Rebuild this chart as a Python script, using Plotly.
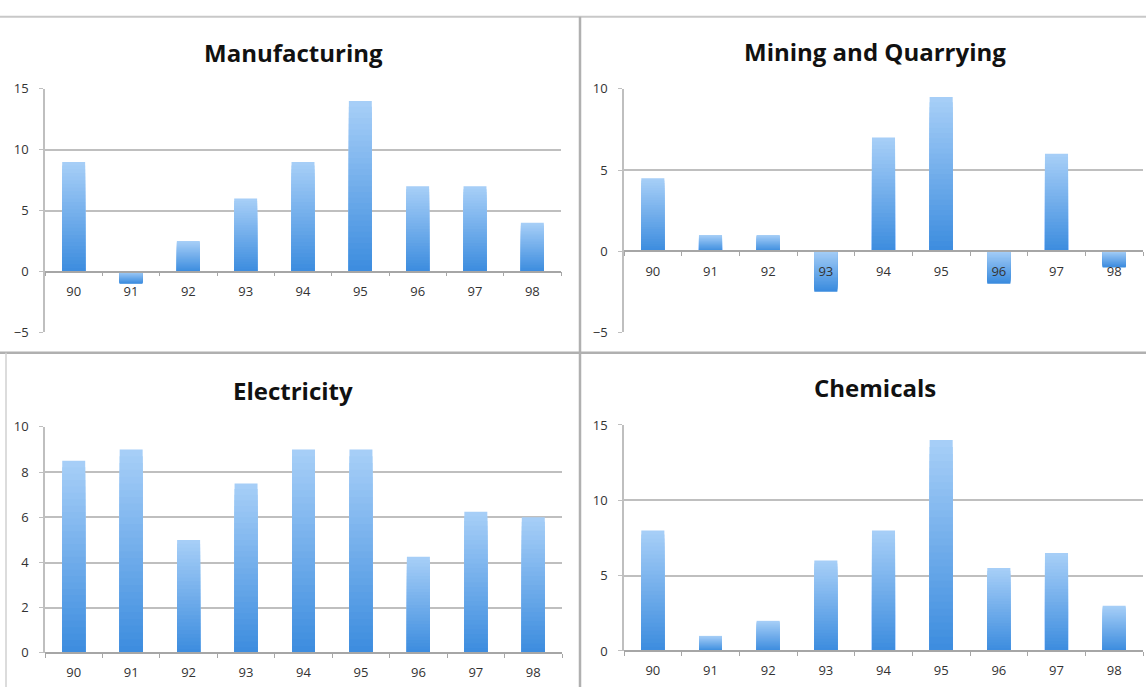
import plotly.graph_objects as go

# ---------------- data ----------------
years = ["90", "91", "92", "93", "94", "95", "96", "97", "98"]
manufacturing = [9, -1, 2.5, 6, 9, 14, 7, 7, 4]
mining = [4.5, 1, 1, -2.5, 7, 9.5, -2, 6, -1]
electricity = [8.5, 9, 5, 7.5, 9, 9, 4.25, 6.25, 6]
chemicals = [8, 1, 2, 6, 8, 14, 5.5, 6.5, 3]
titles = ["Manufacturing", "Mining and Quarrying", "Electricity", "Chemicals"]
y_ranges = [[-5, 15], [-5, 10], [0, 10], [0, 15]]
y_dticks = [5, 5, 2, 5]

# ---------------- layout geometry (pixels of the 1146x696 page) ----------------
W, H = 1146, 696
boxes = [  # x0, x1, ytop, ybottom, title x, title y
    (45, 561, 82, 332, 293, 45),
    (624, 1143, 82, 332, 875, 44),
    (45, 562, 429, 661, 293, 392),
    (624, 1143, 427, 659, 875, 389),
]
series = [manufacturing, mining, electricity, chemicals]

LIGHT = (166, 206, 247)
DARK = (58, 139, 222)
GRID = "#bfbfbf"
N = 30


def mix(t):
    c = [round(DARK[i] + (LIGHT[i] - DARK[i]) * t) for i in range(3)]
    return "rgb(%d,%d,%d)" % tuple(c)


fig = go.Figure()
layout = dict(
    width=W, height=H, margin=dict(l=0, r=0, t=0, b=0, pad=0),
    paper_bgcolor="white", plot_bgcolor="white",
    showlegend=False, barmode="overlay", bargap=0.6,
    font=dict(family="Open Sans, sans-serif", color="#333333", size=13),
)
annotations = []

for p, (vals, title, yr, dt, box) in enumerate(zip(series, titles, y_ranges, y_dticks, boxes)):
    sfx = "" if p == 0 else str(p + 1)
    xa, ya = "x" + sfx, "y" + sfx
    x0, x1, yt, yb, tx, ty = box
    ydom = [1 - yb / H, 1 - yt / H]
    zero_pos = ydom[0] + (0 - yr[0]) / (yr[1] - yr[0]) * (ydom[1] - ydom[0])

    for k in range(N):
        frac = 1 - k / N
        ys = [v * frac for v in vals]
        cols = [mix(frac if v >= 0 else k / N) for v in vals]
        fig.add_trace(go.Bar(x=years, y=ys, marker=dict(color=cols, line=dict(width=0)),
                             xaxis=xa, yaxis=ya, hoverinfo="skip"))

    layout["xaxis" + sfx] = dict(
        domain=[x0 / W, x1 / W], anchor="free", position=zero_pos,
        type="category", showline=True, linecolor="#a6a6a6", linewidth=1.5,
        ticks="outside", tickson="boundaries", ticklen=4, tickcolor="#a6a6a6",
        ticklabelstandoff=8,
        showgrid=False, tickfont=dict(size=13, color="#333333"), fixedrange=True,
    )
    layout["yaxis" + sfx] = dict(
        domain=ydom, anchor=xa, range=yr, dtick=dt, tick0=0,
        showline=True, linecolor=GRID, linewidth=1.5,
        ticks="outside", ticklen=4, tickcolor=GRID, ticklabelstandoff=8,
        showgrid=True, gridcolor=GRID, gridwidth=1.5,
        zeroline=False, tickfont=dict(size=13, color="#333333"), fixedrange=True,
    )
    annotations.append(dict(
        text="<b>%s</b>" % title, x=tx / W, y=1 - ty / H, xref="paper", yref="paper",
        xanchor="center", yanchor="middle", showarrow=False,
        font=dict(size=24, color="#111111", family="Open Sans, sans-serif"),
    ))

shapes = [
    dict(type="line", xref="paper", yref="paper", x0=0, x1=1, y0=1 - 8 / H, y1=1 - 8 / H,
         line=dict(color="#c8c8c8", width=2)),
    dict(type="line", xref="paper", yref="paper", x0=0, x1=1, y0=1 - 353 / H, y1=1 - 353 / H,
         line=dict(color="#b0b0b0", width=2.5)),
    dict(type="line", xref="paper", yref="paper", x0=580 / W, x1=580 / W, y0=0, y1=1 - 8 / H,
         line=dict(color="#b0b0b0", width=2.5)),
    dict(type="line", xref="paper", yref="paper", x0=6 / W, x1=6 / W, y0=0, y1=1 - 353 / H,
         line=dict(color="#d0d0d0", width=1.5)),
]

layout["annotations"] = annotations
layout["shapes"] = shapes
fig.update_layout(**layout)
fig.write_html(
    "out.html",
    config={"displayModeBar": False},
    post_script="document.body.style.margin='0';document.body.style.overflow='hidden';",
)
